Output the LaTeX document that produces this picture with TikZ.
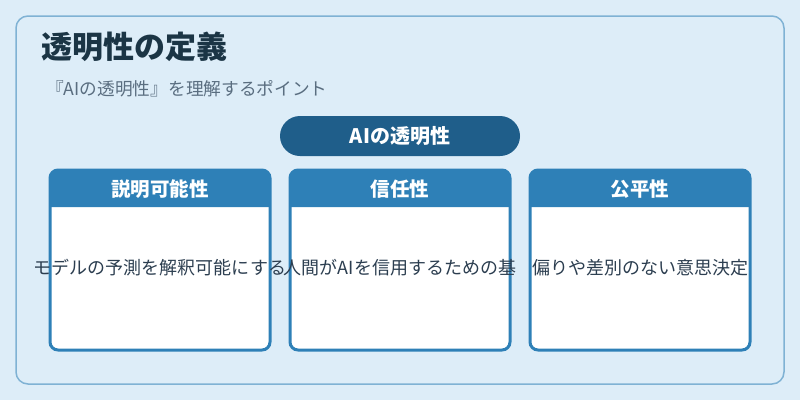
\documentclass[tikz,border=0pt]{standalone}
\usepackage{fontspec}
\setmainfont{Noto Sans CJK JP}
\definecolor{pagebg}{HTML}{DDEDF8}
\definecolor{framecol}{HTML}{7FB2D4}
\definecolor{titlecol}{HTML}{1B3545}
\definecolor{subcol}{HTML}{5A6E80}
\definecolor{pillcol}{HTML}{1F5E8A}
\definecolor{cardcol}{HTML}{2E80B7}
\definecolor{bodycol}{HTML}{2C3E50}
\tikzset{
  headtext/.style={text=white, font=\fontsize{19.5}{21}\selectfont\bfseries},
  bodytext/.style={text=bodycol, font=\fontsize{18}{20}\selectfont}
}

\begin{document}
\begin{tikzpicture}[x=1pt,y=-1pt]
  \useasboundingbox (0,0) rectangle (800,400);
  \fill[pagebg] (0,0) rectangle (800,400);
  \filldraw[fill=pagebg, draw=framecol, line width=1.5pt, rounded corners=12pt] (16,16) rectangle (784,384);
  \node[anchor=west, inner sep=0pt, text=titlecol, font=\fontsize{31}{33}\selectfont\bfseries] (title) at (41,47) {透明性の定義};
  \node[anchor=west, inner sep=0pt, text=subcol, font=\fontsize{17.7}{19}\selectfont] (subtitle) at (46,89) {『AIの透明性』を理解するポイント};
  \filldraw[fill=pillcol, draw=none, rounded corners=20pt] (280,116) rectangle (520,156);
  \node[headtext, font=\fontsize{20}{22}\selectfont\bfseries] (pill) at (400,136) {AIの透明性};
  \filldraw[fill=white, draw=cardcol, line width=3pt, rounded corners=8pt] (50,170) rectangle (270,350);
  \fill[cardcol] (50,207) {[rounded corners=8pt] -- (50,170) -- (270,170)} -- (270,207) -- cycle;
  \node[headtext] (explain) at (160,189) {説明可能性};
  \node[bodytext] (explaintext) at (160,268) {モデルの予測を解釈可能にする};
  \filldraw[fill=white, draw=cardcol, line width=3pt, rounded corners=8pt] (290,170) rectangle (510,350);
  \fill[cardcol] (290,207) {[rounded corners=8pt] -- (290,170) -- (510,170)} -- (510,207) -- cycle;
  \node[headtext] (trust) at (400,189) {信任性};
  \node[bodytext] (trusttext) at (400,268) {人間がAIを信用するための基};
  \filldraw[fill=white, draw=cardcol, line width=3pt, rounded corners=8pt] (530,170) rectangle (750,350);
  \fill[cardcol] (530,207) {[rounded corners=8pt] -- (530,170) -- (750,170)} -- (750,207) -- cycle;
  \node[headtext] (fair) at (640,189) {公平性};
  \node[bodytext] (fairtext) at (640,268) {偏りや差別のない意思決定};
\end{tikzpicture}
\end{document}
